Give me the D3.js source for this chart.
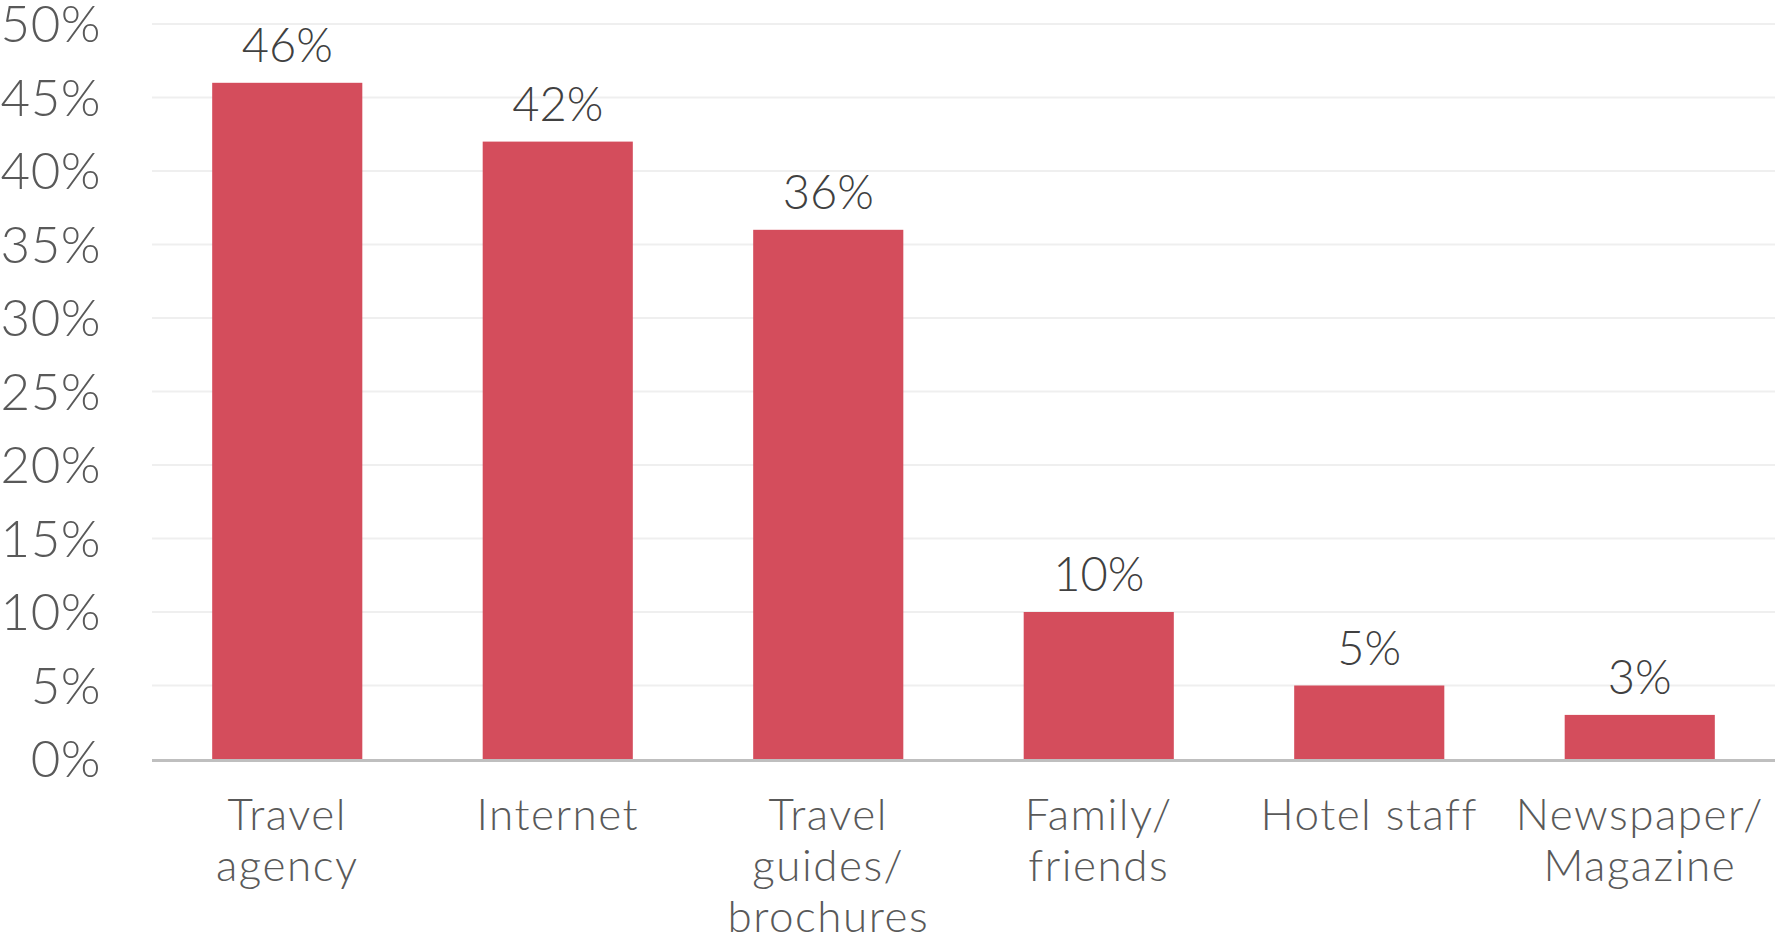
<!DOCTYPE html>
<html>
<head>
<meta charset="utf-8">
<script src="https://cdn.jsdelivr.net/npm/d3@7"></script>
<style>
  html, body { margin: 0; padding: 0; background: #ffffff; }
  svg { display: block; }
  text { font-family: "Century Gothic", "Lato", "Open Sans", sans-serif; font-weight: 300; }
</style>
</head>
<body>
<svg id="chart" width="1775" height="937"></svg>
<script>
const categories = [
  ["Travel", "agency"],
  ["Internet"],
  ["Travel", "guides/", "brochures"],
  ["Family/", "friends"],
  ["Hotel staff"],
  ["Newspaper/", "Magazine"]
];
const categoryKeys = ["Travel agency", "Internet", "Travel guides/ brochures", "Family/ friends", "Hotel staff", "Newspaper/ Magazine"];
const values = [46, 42, 36, 10, 5, 3];
const yTicks = [0, 5, 10, 15, 20, 25, 30, 35, 40, 45, 50];

(function () {
const svg = d3.select("#chart");
const plotLeft = 152, plotRight = 1775, plotTop = 24, plotBottom = 759;

const x = d3.scaleBand()
  .domain(categoryKeys)
  .range([plotLeft, plotRight])
  .paddingInner(0.445)
  .paddingOuter(0.2225);

const y = d3.scaleLinear().domain([0, 50]).range([plotBottom, plotTop]);

// gridlines
svg.append("g")
  .selectAll("line")
  .data(yTicks.filter(d => d > 0))
  .join("line")
  .attr("x1", plotLeft).attr("x2", plotRight)
  .attr("y1", d => y(d)).attr("y2", d => y(d))
  .attr("stroke", "#efefef")
  .attr("stroke-width", 2);

// y tick labels
svg.append("g")
  .selectAll("text")
  .data(yTicks)
  .join("text")
  .attr("x", 101)
  .attr("y", d => y(d) + 18)
  .attr("text-anchor", "end")
  .attr("fill", "#595959")
  .attr("font-size", 51)
  .attr("letter-spacing", 0.5)
  .text(d => d + "%");

// bars
svg.append("g")
  .selectAll("rect")
  .data(values)
  .join("rect")
  .attr("x", (d, i) => x(categoryKeys[i]))
  .attr("width", x.bandwidth())
  .attr("y", d => y(d))
  .attr("height", d => y(0) - y(d))
  .attr("fill", "#d44d5c");

// axis line
svg.append("line")
  .attr("x1", plotLeft).attr("x2", plotRight)
  .attr("y1", plotBottom + 1.5).attr("y2", plotBottom + 1.5)
  .attr("stroke", "#bfbfbf")
  .attr("stroke-width", 3);

// data labels
svg.append("g")
  .selectAll("text")
  .data(values)
  .join("text")
  .attr("x", (d, i) => x(categoryKeys[i]) + x.bandwidth() / 2)
  .attr("y", d => y(d) - 21)
  .attr("text-anchor", "middle")
  .attr("fill", "#404040")
  .attr("font-size", 47)
  .text(d => d + "%");

// category labels
const cg = svg.append("g");
categories.forEach((lines, i) => {
  const cx = x(categoryKeys[i]) + x.bandwidth() / 2;
  const t = cg.append("text")
    .attr("x", cx)
    .attr("y", 830)
    .attr("text-anchor", "middle")
    .attr("fill", "#595959")
    .attr("font-size", 44)
    .attr("letter-spacing", 1.5);
  lines.forEach((ln, j) => {
    t.append("tspan")
      .attr("x", cx)
      .attr("y", 830 + j * 51)
      .text(ln);
  });
});
})();
</script>
</body>
</html>
